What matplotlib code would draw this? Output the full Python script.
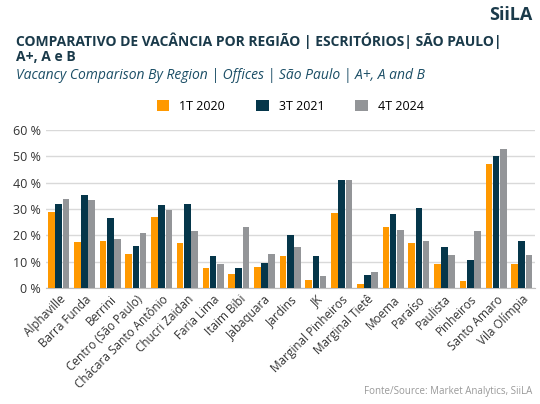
import matplotlib.pyplot as plt
import numpy as np

plt.rcParams["font.family"] = ["Open Sans", "DejaVu Sans"]

regions = ["Alphaville", "Barra Funda", "Berrini", "Centro (São Paulo)",
           "Chácara Santo Antônio", "Chucri Zaidan", "Faria Lima", "Itaim Bibi",
           "Jabaquara", "Jardins", "JK", "Marginal Pinheiros", "Marginal Tietê",
           "Moema", "Paraíso", "Paulista", "Pinheiros", "Santo Amaro", "Vila Olímpia"]
t1_2020 = [29, 17.5, 18, 13, 27, 17, 7.5, 5.5, 8, 12, 3, 28.5, 1.5, 23, 17, 9, 2.5, 47, 9]
t3_2021 = [32, 35.5, 26.5, 16, 31.5, 32, 12, 7.5, 9.5, 20, 12, 41, 5, 28, 30.5, 15.5, 10.5, 50, 18]
t4_2024 = [34, 33.5, 18.5, 21, 29.5, 21.5, 9, 23, 13, 15.5, 4.5, 41, 6, 22, 18, 12.5, 21.5, 53, 12.5]
series = [("1T 2020", t1_2020, "#FF9900"),
          ("3T 2021", t3_2021, "#05364A"),
          ("4T 2024", t4_2024, "#939598")]

fig = plt.figure(figsize=(5.4, 4.04), dpi=100)
ax = fig.add_axes([0.085, 0.287, 0.905, 0.391])

x = np.arange(len(regions))
w = 0.28
for i, (name, vals, color) in enumerate(series):
    ax.bar(x + (i - 1) * w, vals, w * 0.92, color=color, label=name, zorder=3)

ax.set_ylim(0, 60)
ax.set_yticks(range(0, 61, 10))
ax.set_yticklabels([f"{v} %" for v in range(0, 61, 10)], fontsize=9, color="#333333")
ax.set_xlim(-0.5, len(regions) - 0.5)
ax.set_xticks(x)
ax.set_xticklabels(regions, rotation=45, ha="right", rotation_mode="anchor",
                   fontsize=8.5, color="#333333")
ax.grid(axis="y", color="#d9d9d9", lw=1, zorder=0)
for s in ["top", "right", "left"]:
    ax.spines[s].set_visible(False)
ax.spines["bottom"].set_color("#bfbfbf")
ax.tick_params(length=0)

ax.legend(loc="lower center", bbox_to_anchor=(0.5, 1.04), ncol=3, frameon=False,
          fontsize=9, handlelength=1, handleheight=1, columnspacing=2.5)

fig.text(0.03, 0.9, "COMPARATIVO DE VACÂNCIA POR REGIÃO | ESCRITÓRIOS| SÃO PAULO|",
         fontsize=10, fontweight="bold", color="#1a3a4a", va="center")
fig.text(0.03, 0.858, "A+, A e B", fontsize=10, fontweight="bold", color="#1a3a4a",
         va="center")
fig.text(0.03, 0.812, "Vacancy Comparison By Region | Offices | São Paulo | A+, A and B",
         fontsize=10, style="italic", color="#1b4e66", va="center")
fig.text(0.985, 0.962, "SiiLA", fontsize=13, fontweight="bold", color="#1a3a4a",
         ha="right", va="center")
fig.text(0.985, 0.025, "Fonte/Source: Market Analytics, SiiLA", fontsize=7,
         color="#999999", ha="right")

fig.savefig("out.png", dpi=100)
